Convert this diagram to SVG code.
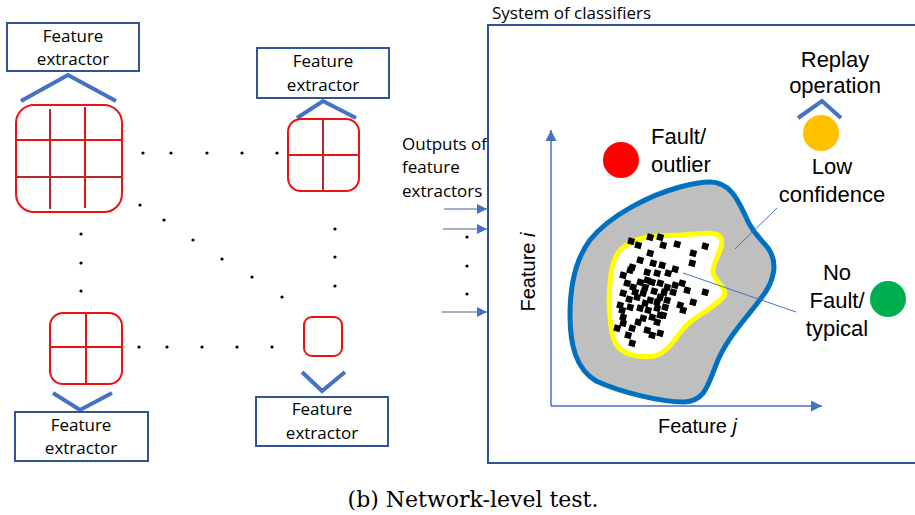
<svg xmlns="http://www.w3.org/2000/svg" width="915" height="515" viewBox="0 0 915 515">
<style>
.lbl{font-family:"Open Sans","Noto Sans","DejaVu Sans",sans-serif;font-size:17px;fill:#000}
.big{font-family:"Liberation Sans",Arial,sans-serif;font-size:22px;fill:#000}
.box{fill:#fff;stroke:#2F5597;stroke-width:2}
.chev{fill:none;stroke:#4472C4;stroke-width:4}
.cell{fill:#fff;stroke:#EE1111;stroke-width:2}
.gl{stroke:#EE1111;stroke-width:2}
.gd{stroke:#B5292B;stroke-width:2}
.dot{fill:#000}
.inp{stroke:#8497B0;stroke-width:1.5}
.ptr{stroke:#4472C4;stroke-width:1}
.pt rect{width:6.5px;height:6.5px}
</style>
<defs>
<marker id="ah" viewBox="0 0 10 10" refX="10" refY="5" markerWidth="10" markerHeight="10" markerUnits="userSpaceOnUse" orient="auto">
<path d="M0,0 L10,5 L0,10 Z" fill="#4472C4"/>
</marker>
<marker id="ax" viewBox="0 0 10 10" refX="10" refY="5" markerWidth="11" markerHeight="11" markerUnits="userSpaceOnUse" orient="auto">
<path d="M0,0 L10,5 L0,10 Z" fill="#4472C4"/>
</marker>
</defs>
<rect width="915" height="515" fill="#fff"/>

<g id="fe-top-left">
<rect class="box" x="7" y="23" width="132" height="48"/>
<text class="lbl" x="73" y="42" text-anchor="middle">Feature</text>
<text class="lbl" x="73" y="65" text-anchor="middle">extractor</text>
<polyline class="chev" points="21,101 68,75 116,101"/>
</g>
<g id="grid-3x3">
<rect class="cell" x="16" y="105" width="106" height="107" rx="18"/>
<line class="gd" x1="50" y1="109" x2="50" y2="209"/>
<line class="gl" x1="85" y1="107" x2="85" y2="208"/>
<line class="gl" x1="16" y1="140" x2="122" y2="140"/>
<line class="gd" x1="16" y1="177" x2="123" y2="177"/>
</g>

<g id="fe-top-right">
<rect class="box" x="257" y="48" width="132" height="50"/>
<text class="lbl" x="323" y="67" text-anchor="middle">Feature</text>
<text class="lbl" x="323" y="91" text-anchor="middle">extractor</text>
<polyline class="chev" points="297,118 323,101 356,118"/>
</g>
<g id="grid-2x2-top">
<rect class="cell" x="288" y="119" width="71" height="72" rx="13"/>
<line class="gd" x1="323" y1="120" x2="323" y2="190"/>
<line class="gl" x1="288" y1="155" x2="359" y2="155"/>
</g>

<g id="grid-2x2-bottom">
<rect class="cell" x="50" y="313" width="72" height="71" rx="13"/>
<line class="gl" x1="86" y1="313" x2="86" y2="384"/>
<line class="gl" x1="50" y1="347" x2="122" y2="347"/>
</g>
<g id="fe-bottom-left">
<polyline class="chev" points="53,393 80,410 112,393"/>
<rect class="box" x="15" y="412" width="133" height="49"/>
<text class="lbl" x="81" y="431" text-anchor="middle">Feature</text>
<text class="lbl" x="81" y="454" text-anchor="middle">extractor</text>
</g>

<g id="cell-1x1">
<rect class="cell" x="304" y="317" width="38" height="39" rx="8"/>
</g>
<g id="fe-bottom-right">
<polyline class="chev" points="302,372 322,391 345,372"/>
<rect class="box" x="256" y="397" width="132" height="49"/>
<text class="lbl" x="322" y="415" text-anchor="middle">Feature</text>
<text class="lbl" x="322" y="439" text-anchor="middle">extractor</text>
</g>

<g id="dots">
<circle class="dot" cx="143" cy="153" r="1.6"/>
<circle class="dot" cx="171" cy="153" r="1.6"/>
<circle class="dot" cx="207" cy="153" r="1.6"/>
<circle class="dot" cx="242" cy="153" r="1.6"/>
<circle class="dot" cx="277" cy="153" r="1.6"/>
<circle class="dot" cx="140" cy="205" r="1.6"/>
<circle class="dot" cx="164" cy="220" r="1.6"/>
<circle class="dot" cx="193" cy="240" r="1.6"/>
<circle class="dot" cx="222" cy="259" r="1.6"/>
<circle class="dot" cx="252" cy="277" r="1.6"/>
<circle class="dot" cx="282" cy="297" r="1.6"/>
<circle class="dot" cx="81" cy="234" r="1.6"/>
<circle class="dot" cx="81" cy="263" r="1.6"/>
<circle class="dot" cx="81" cy="291" r="1.6"/>
<circle class="dot" cx="335" cy="229" r="1.6"/>
<circle class="dot" cx="335" cy="257" r="1.6"/>
<circle class="dot" cx="335" cy="286" r="1.6"/>
<circle class="dot" cx="139" cy="347" r="1.6"/>
<circle class="dot" cx="167" cy="347" r="1.6"/>
<circle class="dot" cx="202" cy="347" r="1.6"/>
<circle class="dot" cx="237" cy="347" r="1.6"/>
<circle class="dot" cx="272" cy="347" r="1.6"/>
<circle class="dot" cx="467" cy="237" r="1.6"/>
<circle class="dot" cx="467" cy="266" r="1.6"/>
<circle class="dot" cx="467" cy="294" r="1.6"/>
</g>

<g id="outputs-label">
<text class="lbl" x="402" y="150">Outputs of</text>
<text class="lbl" x="402" y="173">feature</text>
<text class="lbl" x="402" y="197">extractors</text>
</g>

<g id="system">
<text class="lbl" x="492" y="19">System of classifiers</text>
<rect x="488" y="25" width="440" height="438" fill="none" stroke="#2F5597" stroke-width="2"/>
</g>

<g id="low-confidence-region">
<path d="M710 182 C730 182 738 200 745 215 C752 232 760 238 768 248 C778 262 775 280 762 297 C745 320 725 340 716 365 C708 385 705 401 684 402 C660 402 620 392 596 381 C576 369 570 345 570 315 C570 285 575 260 590 240 C610 215 650 195 680 187 C695 183 702 182 710 182 Z" fill="#BFBFBF" stroke="#0070C0" stroke-width="5"/>
</g>
<g id="typical-region">
<path d="M630 243 C640 236 660 236 680 235 C700 234 716 230 721 238 C725 248 712 262 713 272 C714 282 728 287 724 296 C718 305 700 314 690 322 C678 332 672 350 655 356 C640 358 620 356 614 340 C608 320 608 290 612 268 C615 255 620 248 630 243 Z" fill="#fff" stroke="#FFFF00" stroke-width="5"/>
</g>
<g id="samples">
<g class="pt" fill="#000">
<rect x="628" y="238" transform="rotate(15 631 241)"/>
<rect x="635" y="242" transform="rotate(15 638 245)"/>
<rect x="647" y="234" transform="rotate(15 650 237)"/>
<rect x="657" y="234" transform="rotate(15 660 237)"/>
<rect x="660" y="242" transform="rotate(15 663 245)"/>
<rect x="674" y="241" transform="rotate(15 677 244)"/>
<rect x="702" y="243" transform="rotate(15 705 246)"/>
<rect x="690" y="250" transform="rotate(15 693 253)"/>
<rect x="689" y="260" transform="rotate(15 692 263)"/>
<rect x="647" y="250" transform="rotate(15 650 253)"/>
<rect x="637" y="257" transform="rotate(15 640 260)"/>
<rect x="650" y="260" transform="rotate(15 653 263)"/>
<rect x="659" y="262" transform="rotate(15 662 265)"/>
<rect x="672" y="266" transform="rotate(15 675 269)"/>
<rect x="629" y="264" transform="rotate(15 632 267)"/>
<rect x="620" y="272" transform="rotate(15 623 275)"/>
<rect x="627" y="267" transform="rotate(15 630 270)"/>
<rect x="644" y="269" transform="rotate(15 647 272)"/>
<rect x="654" y="270" transform="rotate(15 657 273)"/>
<rect x="665" y="270" transform="rotate(15 668 273)"/>
<rect x="679" y="280" transform="rotate(15 682 283)"/>
<rect x="684" y="287" transform="rotate(15 687 290)"/>
<rect x="702" y="289" transform="rotate(15 705 292)"/>
<rect x="690" y="299" transform="rotate(15 693 302)"/>
<rect x="677" y="302" transform="rotate(15 680 305)"/>
<rect x="680" y="307" transform="rotate(15 683 310)"/>
<rect x="624" y="280" transform="rotate(15 627 283)"/>
<rect x="630" y="284" transform="rotate(15 633 287)"/>
<rect x="637" y="279" transform="rotate(15 640 282)"/>
<rect x="642" y="284" transform="rotate(15 645 287)"/>
<rect x="649" y="279" transform="rotate(15 652 282)"/>
<rect x="657" y="280" transform="rotate(15 660 283)"/>
<rect x="664" y="284" transform="rotate(15 667 287)"/>
<rect x="670" y="289" transform="rotate(15 673 292)"/>
<rect x="634" y="294" transform="rotate(15 637 297)"/>
<rect x="640" y="290" transform="rotate(15 643 293)"/>
<rect x="647" y="297" transform="rotate(15 650 300)"/>
<rect x="657" y="294" transform="rotate(15 660 297)"/>
<rect x="664" y="297" transform="rotate(15 667 300)"/>
<rect x="617" y="302" transform="rotate(15 620 305)"/>
<rect x="627" y="304" transform="rotate(15 630 307)"/>
<rect x="637" y="305" transform="rotate(15 640 308)"/>
<rect x="645" y="307" transform="rotate(15 648 310)"/>
<rect x="654" y="305" transform="rotate(15 657 308)"/>
<rect x="662" y="304" transform="rotate(15 665 307)"/>
<rect x="620" y="314" transform="rotate(15 623 317)"/>
<rect x="640" y="315" transform="rotate(15 643 318)"/>
<rect x="649" y="314" transform="rotate(15 652 317)"/>
<rect x="657" y="312" transform="rotate(15 660 315)"/>
<rect x="654" y="319" transform="rotate(15 657 322)"/>
<rect x="614" y="325" transform="rotate(15 617 328)"/>
<rect x="629" y="325" transform="rotate(15 632 328)"/>
<rect x="625" y="332" transform="rotate(15 628 335)"/>
<rect x="644" y="327" transform="rotate(15 647 330)"/>
<rect x="649" y="332" transform="rotate(15 652 335)"/>
<rect x="657" y="330" transform="rotate(15 660 333)"/>
<rect x="629" y="340" transform="rotate(15 632 343)"/>
<rect x="620" y="320" transform="rotate(15 623 323)"/>
<rect x="619" y="307" transform="rotate(15 622 310)"/>
<rect x="632" y="289" transform="rotate(15 635 292)"/>
<rect x="644" y="277" transform="rotate(15 647 280)"/>
<rect x="672" y="282" transform="rotate(15 675 285)"/>
<rect x="660" y="312" transform="rotate(15 663 315)"/>
<rect x="635" y="319" transform="rotate(15 638 322)"/>
<rect x="651" y="288" transform="rotate(15 654 291)"/>
<rect x="654" y="299" transform="rotate(15 657 302)"/>
<rect x="661" y="289" transform="rotate(15 664 292)"/>
<rect x="642" y="300" transform="rotate(15 645 303)"/>
<rect x="626" y="296" transform="rotate(15 629 299)"/>
<rect x="620" y="290" transform="rotate(15 623 293)"/>
</g>
</g>

<g id="connectors">
<line class="inp" x1="444" y1="209" x2="487" y2="209" marker-end="url(#ah)"/>
<line class="inp" x1="443" y1="229" x2="487" y2="229" marker-end="url(#ah)"/>
<line class="inp" x1="442" y1="312" x2="487" y2="312" marker-end="url(#ah)"/>
<line x1="551" y1="406" x2="551" y2="130" stroke="#4472C4" stroke-width="1.5" marker-end="url(#ax)"/>
<line x1="551" y1="406" x2="822" y2="406" stroke="#4472C4" stroke-width="1.5" marker-end="url(#ax)"/>
<line class="ptr" x1="777" y1="208" x2="735" y2="249"/>
<line class="ptr" x1="683" y1="273" x2="796" y2="312"/>
<polyline class="chev" points="798,118 822,101 841,118" stroke-width="3.5"/>
</g>

<g id="axis-labels">
<text class="big" transform="translate(535,272) rotate(-90)" text-anchor="middle" style="font-size:20px">Feature <tspan font-style="italic">i</tspan></text>
<text class="big" x="658" y="433" style="font-size:20px">Feature <tspan font-style="italic">j</tspan></text>
</g>

<g id="fault">
<circle cx="621" cy="160" r="18" fill="#FF0000"/>
<text class="big" x="651" y="144">Fault/</text>
<text class="big" x="651" y="172">outlier</text>
</g>

<g id="low-confidence">
<text class="big" x="835" y="67" text-anchor="middle">Replay</text>
<text class="big" x="835" y="93" text-anchor="middle">operation</text>
<circle cx="821" cy="133" r="18" fill="#FFC000"/>
<text class="big" x="832" y="174" text-anchor="middle">Low</text>
<text class="big" x="832" y="202" text-anchor="middle">confidence</text>
</g>

<g id="no-fault">
<text class="big" x="837" y="280" text-anchor="middle">No</text>
<text class="big" x="837" y="308" text-anchor="middle">Fault/</text>
<text class="big" x="837" y="336" text-anchor="middle">typical</text>
<circle cx="888" cy="299" r="18" fill="#00B050"/>
</g>

<text x="473" y="507" text-anchor="middle" font-family="'DejaVu Serif','Liberation Serif',serif" font-size="22" fill="#000">(b) Network-level test.</text>
</svg>
